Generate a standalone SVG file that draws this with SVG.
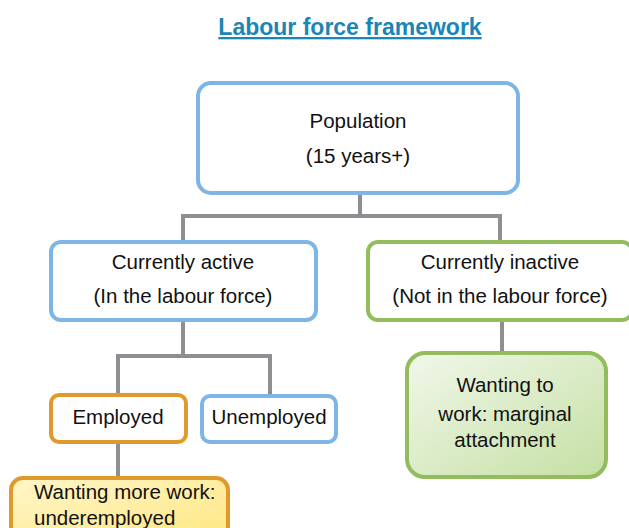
<svg xmlns="http://www.w3.org/2000/svg" width="629" height="528" viewBox="0 0 629 528">
<style>
.t{font-family:"Liberation Sans",Arial,sans-serif;font-size:20.5px;fill:#111;text-anchor:middle}
.box{fill:#fff;stroke-width:4}
.blue{stroke:#7cb5e6}
.green{stroke:#93bc5d}
.orange{stroke:#e09a2c}
.conn{fill:none;stroke:#8e8e93;stroke-width:4}
</style>
<defs>
<linearGradient id="gy" x1="0" y1="0" x2="1" y2="1">
<stop offset="0" stop-color="#fff6c8"/><stop offset="1" stop-color="#ffe680"/>
</linearGradient>
<linearGradient id="gg" x1="0" y1="0" x2="1" y2="1">
<stop offset="0" stop-color="#f1f7ea"/><stop offset="1" stop-color="#c4e0a3"/>
</linearGradient>
</defs>
<text x="350" y="35" style="font-family:'Liberation Sans',Arial,sans-serif;font-size:23px;font-weight:bold;fill:#1a86b6;text-anchor:middle;text-decoration:underline">Labour force framework</text>
<g id="connectors">
<path class="conn" d="M360 193V216M183 240V216H500V240"/>
<path class="conn" d="M183 320V356M118 395V356H270V395"/>
<path class="conn" d="M118 442V478"/>
<path class="conn" d="M502 320V353"/>
</g>
<g id="population">
<rect class="box blue" x="198" y="83" width="320" height="110" rx="13"/>
<text class="t" x="358" y="128">Population</text>
<text class="t" x="358" y="163">(15 years+)</text>
</g>
<g id="active">
<rect class="box blue" x="51" y="242" width="265" height="78" rx="10"/>
<text class="t" x="183" y="269">Currently active</text>
<text class="t" x="183" y="303">(In the labour force)</text>
</g>
<g id="inactive">
<rect class="box green" x="368" y="242" width="264" height="78" rx="10"/>
<text class="t" x="500" y="269">Currently inactive</text>
<text class="t" x="500" y="303">(Not in the labour force)</text>
</g>
<g id="employed">
<rect class="box orange" x="51" y="395" width="135" height="47" rx="8"/>
<text class="t" x="118" y="424">Employed</text>
</g>
<g id="unemployed">
<rect class="box blue" x="202" y="396" width="134" height="46" rx="8"/>
<text class="t" x="269" y="424">Unemployed</text>
</g>
<g id="marginal">
<rect x="407" y="353" width="199" height="124" rx="18" fill="url(#gg)" stroke="#93bc5d" stroke-width="4"/>
<text class="t" x="505" y="392">Wanting to</text>
<text class="t" x="505" y="421">work: marginal</text>
<text class="t" x="505" y="447">attachment</text>
</g>
<g id="underemployed">
<rect x="11" y="478" width="217" height="70" rx="12" fill="url(#gy)" stroke="#e09a2c" stroke-width="4"/>
<text class="t" x="34" y="499" style="text-anchor:start">Wanting more work:</text>
<text class="t" x="34" y="525" style="text-anchor:start">underemployed</text>
</g>
</svg>
